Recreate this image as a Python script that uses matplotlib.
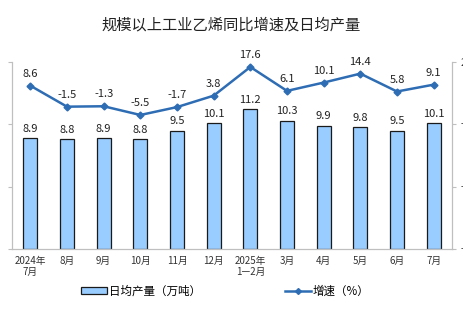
import matplotlib.pyplot as plt
from matplotlib.lines import Line2D
from matplotlib.patches import Patch

plt.rcParams["font.family"] = ["Noto Sans CJK SC", "DejaVu Sans"]

months = ["2024年\n7月", "8月", "9月", "10月", "11月", "12月", "2025年\n1—2月",
          "3月", "4月", "5月", "6月", "7月"]
daily_output = [8.9, 8.8, 8.9, 8.8, 9.5, 10.1, 11.2, 10.3, 9.9, 9.8, 9.5, 10.1]
growth = [8.6, -1.5, -1.3, -5.5, -1.7, 3.8, 17.6, 6.1, 10.1, 14.4, 5.8, 9.1]

bar_color = "#99CCFF"
line_color = "#2E6DB4"
spine_color = "#BFBFBF"

fig = plt.figure(figsize=(4.63, 3.26), dpi=100)
ax = fig.add_axes([12 / 463, 1 - 249 / 326, 440 / 463, 187 / 326])
ax2 = ax.twinx()

x = range(len(months))
ax.bar(x, daily_output, width=0.38, color=bar_color, edgecolor="#1A1A1A",
       linewidth=0.9, zorder=2)
for i, v in enumerate(daily_output):
    ax.annotate(f"{v:.1f}", (i, v), xytext=(0, 3), textcoords="offset points",
                ha="center", va="bottom", fontsize=8, color="#222222")

ax2.plot(x, growth, color=line_color, linewidth=1.8, marker="D", markersize=3.5,
         zorder=3)
for i, v in enumerate(growth):
    ax2.annotate(f"{v:.1f}", (i, v), xytext=(0, 5), textcoords="offset points",
                 ha="center", va="bottom", fontsize=8, color="#222222")

ax.set_xlim(-0.5, len(months) - 0.5)
ax.set_ylim(0, 15)
ax.set_yticks([0, 5, 10, 15])
ax.tick_params(axis="y", length=3, color=spine_color, labelleft=False)
# the right-hand tick labels sit mostly past the figure edge, as in the source
ax2.set_ylim(-70, 20)
ax2.set_yticks([-70, -40, -10, 20])
ax2.tick_params(axis="y", length=3, color=spine_color, labelsize=8,
                labelcolor="#333333")

ax.set_xticks(list(x))
ax.set_xticklabels(months, fontsize=7, color="#333333", linespacing=1.1)
ax.tick_params(axis="x", length=0, pad=5)

for a in (ax, ax2):
    a.spines["top"].set_visible(False)
    for side in ("left", "right", "bottom"):
        a.spines[side].set_color(spine_color)
        a.spines[side].set_linewidth(0.8)

fig.text(0.5, 1 - 25 / 326, "规模以上工业乙烯同比增速及日均产量", ha="center",
         va="center", fontsize=11, color="#222222")

handles = [
    Patch(facecolor=bar_color, edgecolor="#1A1A1A", linewidth=0.9),
    Line2D([0], [0], color=line_color, linewidth=1.8, marker="D", markersize=3),
]
fig.legend(handles, ["日均产量（万吨）", "增速（%）"], loc="center",
           bbox_to_anchor=(0.487, 1 - 291 / 326), ncol=2, frameon=False,
           fontsize=8.3, handlelength=2.2, handleheight=0.5, columnspacing=7.3,
           handletextpad=0.2)

fig.savefig("out.png", dpi=100)
